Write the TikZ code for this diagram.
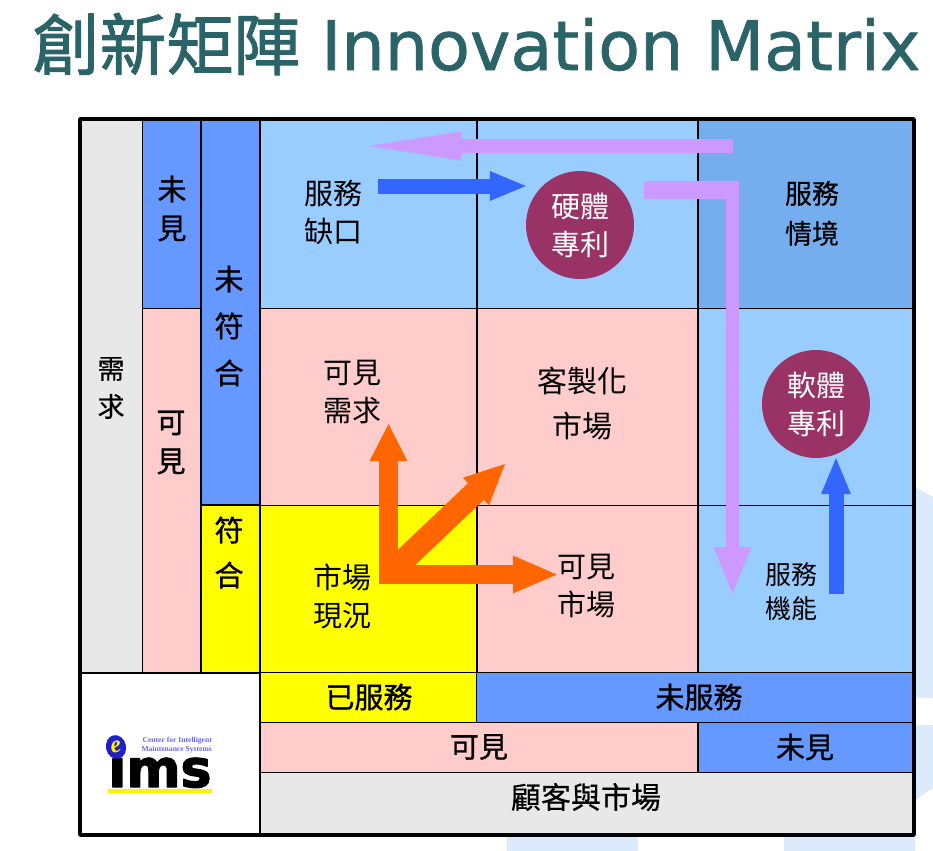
\documentclass[tikz,border=0pt]{standalone}
\usepackage{fontspec}
\usepackage{tikz}
\usetikzlibrary{arrows.meta}
\usetikzlibrary{shapes}
\newfontfamily\cjkfont{Noto Sans CJK TC}
\newfontfamily\midfont[FakeBold=0.4]{Noto Sans CJK TC}
\newfontfamily\headfont[FakeBold=1]{Noto Sans CJK TC}
\newfontfamily\titlecjk[FakeBold=1.4]{Noto Sans CJK TC}
\newfontfamily\latfont[FakeBold=1]{DejaVu Sans}
\newfontfamily\logofont[FakeBold=2.5]{DejaVu Sans Bold}
\newfontfamily\capfont{Liberation Serif}
\definecolor{greycol}{HTML}{E8E8E8}
\definecolor{midblue}{HTML}{6699FF}
\definecolor{paleblue}{HTML}{99CCFF}
\definecolor{dimblue}{HTML}{75AEEE}
\definecolor{pinkcol}{HTML}{FFCCCC}
\definecolor{yellowcol}{HTML}{FFFF00}
\definecolor{wmcol}{HTML}{DCEBFC}
\definecolor{titlecol}{HTML}{2B6468}
\definecolor{patentcol}{HTML}{993366}
\definecolor{orangecol}{HTML}{FF6600}
\definecolor{purplecol}{HTML}{CC99FF}
\definecolor{bluecol}{HTML}{3366FF}
\definecolor{logoblue}{HTML}{2020C8}
\definecolor{logotxt}{HTML}{6666FF}
\tikzset{
  cell/.style={draw=black,line width=1.5pt,rectangle,inner sep=0pt},
  txt/.style={inner sep=0pt,align=center,font=\cjkfont\fontsize{29bp}{38bp}\selectfont},
  small/.style={inner sep=0pt,align=center,font=\midfont\fontsize{27bp}{#1}\selectfont},
  head/.style={inner sep=0pt,align=center,font=\headfont\fontsize{29bp}{#1}\selectfont},
  patent/.style={circle,fill=patentcol,text=white,minimum size=108bp,inner sep=0pt,align=center,
    font=\cjkfont\fontsize{29bp}{38bp}\selectfont},
  orangearrow/.style={draw=orangecol,line width=19bp,-{Triangle[length=#1,width=38bp,line width=0pt]}},
  bluearrow/.style={draw=bluecol,line width=15bp,-{Triangle[length=36bp,width=30bp,line width=0pt]}},
}
\begin{document}
\begin{tikzpicture}[x=1bp,y=-1bp,line join=bevel]
\useasboundingbox (0,0) rectangle (933,851);
%%
\fill [wmcol] (915,487) -- (933,497) -- (933,698) -- (915,698) -- cycle;
\fill [wmcol] (915,725) -- (933,725) -- (933,788) -- (915,800) -- cycle;
\fill [wmcol] (507,835) rectangle (638,851);
\fill [wmcol] (784,835) rectangle (915,851);
%%
  \node (titlecn) at (166.5,44) [inner sep=0pt,text=titlecol,font=\titlecjk\fontsize{67bp}{67bp}\selectfont] {創新矩陣};
  \node (titleen) at (321,70) [anchor=base west,inner sep=0pt,text=titlecol,font=\latfont\fontsize{68.4bp}{68bp}\selectfont] {Innovation Matrix};
%%
  \node (demand) at (111.25,396) [cell,fill=greycol,minimum width=62.5bp,minimum height=553bp] {};
  \node (unseenv) at (171.75,214) [cell,fill=midblue,minimum width=58.5bp,minimum height=189bp] {};
  \node (seenv) at (171.75,490.5) [cell,fill=pinkcol,minimum width=58.5bp,minimum height=364bp] {};
  \node (unfit) at (230.5,312) [cell,fill=midblue,minimum width=59bp,minimum height=386bp] {};
  \node (fit) at (230.5,589) [cell,fill=yellowcol,minimum width=59bp,minimum height=167bp] {};
  \node (c11) at (368.5,214) [cell,fill=paleblue,minimum width=217bp,minimum height=189bp] {};
  \node (c12) at (587.5,214) [cell,fill=paleblue,minimum width=221bp,minimum height=189bp] {};
  \node (c13) at (805.75,214) [cell,fill=dimblue,minimum width=215.5bp,minimum height=189bp] {};
  \node (c21) at (368.5,407) [cell,fill=pinkcol,minimum width=217bp,minimum height=197bp] {};
  \node (c22) at (587.5,407) [cell,fill=pinkcol,minimum width=221bp,minimum height=197bp] {};
  \node (c23) at (805.75,407) [cell,fill=paleblue,minimum width=215.5bp,minimum height=197bp] {};
  \node (c31) at (368.5,589) [cell,fill=yellowcol,minimum width=217bp,minimum height=167bp] {};
  \node (c32) at (587.5,589) [cell,fill=pinkcol,minimum width=221bp,minimum height=167bp] {};
  \node (c33) at (805.75,589) [cell,fill=paleblue,minimum width=215.5bp,minimum height=167bp] {};
  \node (logobox) at (170,754) [cell,fill=white,minimum width=180bp,minimum height=162bp] {};
  \node (served) at (368.5,697.5) [cell,fill=yellowcol,minimum width=217bp,minimum height=50bp] {};
  \node (unserved) at (695,697.5) [cell,fill=midblue,minimum width=437bp,minimum height=50bp] {};
  \node (seenh) at (479,747.5) [cell,fill=pinkcol,minimum width=438bp,minimum height=50bp] {};
  \node (unseenh) at (805.75,747.5) [cell,fill=midblue,minimum width=215.5bp,minimum height=50bp] {};
  \node (market) at (586.75,804) [cell,fill=greycol,minimum width=653.5bp,minimum height=63bp] {};
  \node (frame) at (496.75,477) [draw=black,line width=4bp,inner sep=0pt,minimum width=833.5bp,minimum height=716bp] {};
%%
  \node (demandl) at (111,388) [small=38bp] {需\\求};
  \node (unseenvl) at (172,208.5) [head=39bp] {未\\見};
  \node (seenvl) at (171,442.5) [head=39bp] {可\\見};
  \node (unfitl) at (229,326) [head=47bp] {未\\符\\合};
  \node (fitl) at (229,552.5) [head=45bp] {符\\合};
  \node (gap) at (333,212.5) [txt] {服務\\缺口};
  \node (context) at (812,213.5) [small=40bp] {服務\\情境};
  \node (need) at (352,392) [txt] {可見\\需求};
  \node (custom) at (582,403.5) [inner sep=0pt,align=center,font=\cjkfont\fontsize{30bp}{45bp}\selectfont] {客製化\\市場};
  \node (now) at (342,596) [txt] {市場\\現況};
  \node (vismkt) at (586,586) [txt] {可見\\市場};
  \node (func) at (791,592) [inner sep=0pt,align=center,font=\cjkfont\fontsize{26bp}{34bp}\selectfont] {服務\\機能};
  \node (servedl) at (369,697) [head=34bp] {已服務};
  \node (unservedl) at (699,697) [head=34bp] {未服務};
  \node (seenhl) at (479,747) [head=34bp] {可見};
  \node (unseenhl) at (805,747) [head=34bp] {未見};
  \node (marketl) at (586,797) [inner sep=0pt,font=\midfont\fontsize{30bp}{34bp}\selectfont] {顧客與市場};
%%
  \node (hard) at (580,225) [patent] {硬體\\專利};
  \node (soft) at (816,404) [patent] {軟體\\專利};
%%
  \coordinate (origin) at (388.5,574.5);
  \coordinate (diagtip) at (505,464);
  \coordinate (toptail) at (733,146);
  \coordinate (toptip) at (369,146);
  \coordinate (bartail) at (644,190);
  \coordinate (barend) at (739,190);
  \coordinate (downtail) at (732.5,181);
  \coordinate (downtip) at (732.5,593);
  \coordinate (gaptail) at (378,186);
  \coordinate (functail) at (836,594);
%%
  \draw [orangearrow=37bp,line cap=rect] (origin) -- (origin |- need.south);
  \draw [orangearrow=44bp,line cap=rect] (origin) -- (origin -| vismkt.west);
  \draw [orangearrow=40bp,line width=23bp] (origin) -- (diagtip);
  \draw [draw=purplecol,line width=14.5bp,-{Triangle[length=92bp,width=29bp,line width=0pt]}] (toptail) -- (toptip);
  \draw [draw=purplecol,line width=18bp] (bartail) -- (barend);
  \draw [draw=purplecol,line width=13bp,-{Triangle[length=46bp,width=38bp,line width=0pt]}] (downtail) -- (downtip);
  \draw [bluearrow] (gaptail) -- (hard.west |- gaptail);
  \draw [bluearrow] (functail) -- (functail |- soft.south);
%%
  \node (logoims) at (160,787) [anchor=base,inner sep=0pt,text height=30bp,text depth=0pt,font=\logofont\fontsize{52bp}{52bp}\selectfont] {ims};
  \node (logoe) at (116,747) [ellipse,fill=logoblue,inner sep=0pt,minimum width=20bp,minimum height=24bp,rotate=12,text=yellow,font=\capfont\itshape\bfseries\fontsize{24bp}{24bp}\selectfont] {e};
  \node (logotext) at (212,745) [anchor=east,inner sep=0pt,align=right,text=logotxt,font=\capfont\bfseries\fontsize{7.6bp}{8.6bp}\selectfont] {Center for Intelligent\\Maintenance Systems};
  \node (logoline) at (160,790.5) [fill=yellow,inner sep=0pt,minimum width=104bp,minimum height=4bp] {};
%
\end{tikzpicture}
\end{document}
